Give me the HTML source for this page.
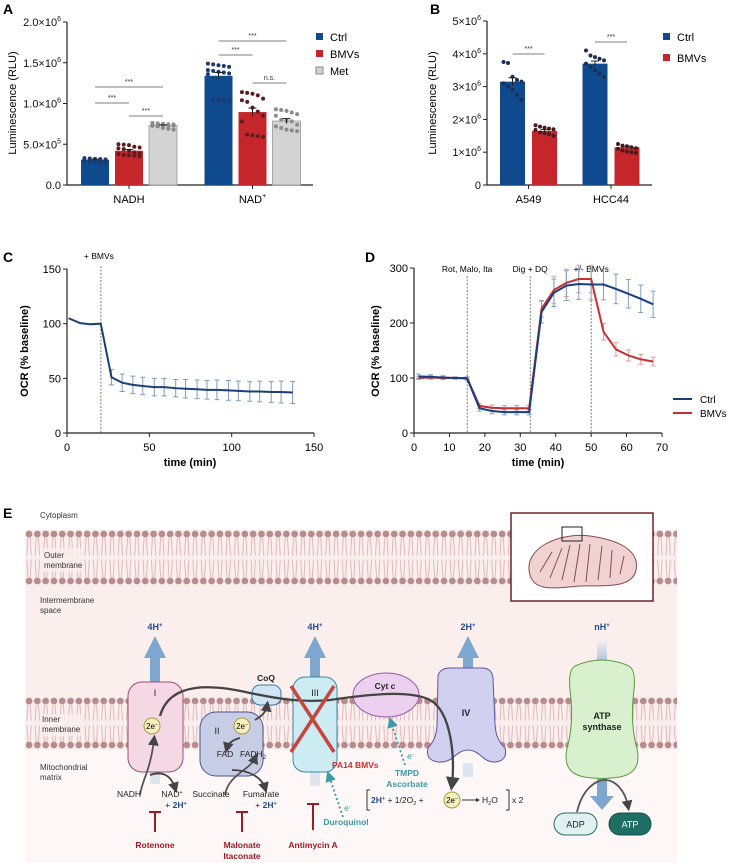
<!DOCTYPE html>
<html><head><meta charset="utf-8">
<style>
html,body{margin:0;padding:0;background:#fff;}
svg{display:block;font-family:"Liberation Sans",Arial,sans-serif;}
</style></head>
<body>
<svg id="fig" width="729" height="863" viewBox="0 0 729 863" xmlns="http://www.w3.org/2000/svg">
<defs>
<pattern id="memOuter" x="0" y="530.5" width="8.3" height="54" patternUnits="userSpaceOnUse">
 <line x1="3" y1="7" x2="2" y2="25" stroke="#d9a9b0" stroke-width="0.8"/>
 <line x1="5.3" y1="7" x2="6.3" y2="25" stroke="#d9a9b0" stroke-width="0.8"/>
 <line x1="3" y1="47" x2="2" y2="29" stroke="#d9a9b0" stroke-width="0.8"/>
 <line x1="5.3" y1="47" x2="6.3" y2="29" stroke="#d9a9b0" stroke-width="0.8"/>
 <circle cx="4.15" cy="3.5" r="3.4" fill="#b88b8e"/>
 <circle cx="4.15" cy="50.5" r="3.4" fill="#b88b8e"/>
</pattern>
<pattern id="memInner" x="0" y="697.5" width="8.3" height="51" patternUnits="userSpaceOnUse">
 <line x1="3" y1="7" x2="2" y2="23" stroke="#d9a9b0" stroke-width="0.8"/>
 <line x1="5.3" y1="7" x2="6.3" y2="23" stroke="#d9a9b0" stroke-width="0.8"/>
 <line x1="3" y1="44" x2="2" y2="28" stroke="#d9a9b0" stroke-width="0.8"/>
 <line x1="5.3" y1="44" x2="6.3" y2="28" stroke="#d9a9b0" stroke-width="0.8"/>
 <circle cx="4.15" cy="3.5" r="3.4" fill="#b88b8e"/>
 <circle cx="4.15" cy="47.5" r="3.4" fill="#b88b8e"/>
</pattern>
<marker id="ah" markerWidth="6" markerHeight="6" refX="3" refY="3" orient="auto"><path d="M0,0 L6,3 L0,6 z" fill="#444"/></marker>
<marker id="ahT" markerWidth="6" markerHeight="6" refX="3" refY="3" orient="auto"><path d="M0,0 L6,3 L0,6 z" fill="#3a9aa5"/></marker>
<linearGradient id="fadeUp" x1="0" y1="1" x2="0" y2="0"><stop offset="0" stop-color="#aac4dc"/><stop offset="1" stop-color="#aac4dc" stop-opacity="0"/></linearGradient>
</defs>

<!-- Panel letters -->
<text x="3" y="14" font-size="14" font-weight="bold">A</text>
<text x="430" y="14" font-size="14" font-weight="bold">B</text>
<text x="3" y="262" font-size="14" font-weight="bold">C</text>
<text x="365" y="262" font-size="14" font-weight="bold">D</text>
<text x="3" y="518" font-size="14" font-weight="bold">E</text>

<g id="gA"></g>
<g id="gB"></g>
<g id="gC"></g>
<g id="gD"></g>

<!-- Panel E diagram -->
<g id="gE">
 <rect x="25" y="530" width="652" height="333" fill="#faefec"/>
 <rect x="25" y="750" width="652" height="113" fill="#fdf8f7"/>
 <rect x="25" y="530.5" width="652" height="54" fill="url(#memOuter)"/>
 <rect x="25" y="697.5" width="652" height="51" fill="url(#memInner)"/>
 <text x="40" y="518" font-size="8" fill="#333">Cytoplasm</text>
 <rect x="42" y="548" width="42" height="24" fill="#faefec" opacity="0.8"/>
 <text x="44" y="558" font-size="8" fill="#333"><tspan x="44">Outer</tspan><tspan x="44" dy="10">membrane</tspan></text>
 <text x="40" y="603" font-size="8" fill="#333"><tspan x="40">Intermembrane</tspan><tspan x="40" dy="10">space</tspan></text>
 <rect x="40" y="714" width="44" height="22" fill="#faefec" opacity="0.8"/>
 <text x="42" y="722" font-size="8" fill="#333"><tspan x="42">Inner</tspan><tspan x="42" dy="10">membrane</tspan></text>
 <text x="40" y="770" font-size="8" fill="#333"><tspan x="40">Mitochondrial</tspan><tspan x="40" dy="10">matrix</tspan></text>

 <!-- Mito inset -->
 <rect x="511" y="513" width="142" height="88" fill="#fff" stroke="#6e2326" stroke-width="1.5"/>
 <path d="M530,575 C522,548 560,532 590,536 C618,540 640,550 636,570 C632,590 600,585 580,586 C555,588 535,592 530,575 Z" fill="#f1d2d2" stroke="#8a4a4c" stroke-width="1"/>
 <path d="M540,572 L552,552 M550,578 L562,548 M562,580 L570,545 M574,582 L580,544 M586,582 L590,544 M598,580 L602,546 M610,578 L612,550 M620,574 L624,556" stroke="#8a4a4c" stroke-width="1" fill="none"/>
 <rect x="562" y="527" width="20" height="14" fill="none" stroke="#222" stroke-width="1"/>

 <!-- proton arrows -->
 <g fill="#7ea7cf">
  <rect x="150" y="655" width="10" height="28"/><path d="M144,658 L155,636 L166,658 Z"/>
  <rect x="310" y="655" width="10" height="24"/><path d="M304,658 L315,636 L326,658 Z"/>
  <rect x="463" y="655" width="10" height="15"/><path d="M457,658 L468,636 L479,658 Z"/>
  <rect x="597" y="640" width="10" height="22" fill="url(#fadeUp)"/>
  <rect x="150" y="772" width="10" height="12" fill="#c9d8e8" opacity="0.6"/>
  <rect x="310" y="772" width="10" height="14" fill="#c9d8e8" opacity="0.6"/>
  <rect x="463" y="763" width="10" height="14" fill="#c9d8e8" opacity="0.6"/>
  <rect x="597" y="778" width="10" height="20"/><path d="M590,796 L602,810 L614,796 Z"/>
 </g>
 <g font-size="9" font-weight="bold" fill="#1f4e8f" text-anchor="middle">
  <text x="155" y="630">4H<tspan font-size="6" dy="-3">+</tspan></text>
  <text x="315" y="630">4H<tspan font-size="6" dy="-3">+</tspan></text>
  <text x="468" y="630">2H<tspan font-size="6" dy="-3">+</tspan></text>
  <text x="602" y="630">nH<tspan font-size="6" dy="-3">+</tspan></text>
 </g>

 <!-- complexes -->
 <rect x="128" y="682" width="55" height="90" rx="14" fill="#f4d8e4" stroke="#9c4f78" stroke-width="1"/>
 <text x="155" y="696" font-size="9" text-anchor="middle" fill="#222">I</text>
 <rect x="200" y="712" width="63" height="64" rx="16" fill="#c8cde6" stroke="#4a5590" stroke-width="1"/>
 <text x="217" y="734" font-size="9" text-anchor="middle" fill="#222">II</text>
 <text x="225" y="757" font-size="8.5" text-anchor="middle" fill="#222">FAD</text>
 <text x="253" y="757" font-size="8.5" text-anchor="middle" fill="#222">FADH<tspan font-size="6" dy="2">2</tspan></text>
 <rect x="252" y="685" width="29" height="20" rx="8" fill="#cfe5f3" stroke="#3a7aa0" stroke-width="1"/>
 <text x="266" y="681" font-size="8.5" font-weight="bold" text-anchor="middle" fill="#222">CoQ</text>
 <rect x="293" y="677" width="44" height="95" rx="12" fill="#cdebf2" stroke="#3a8aa0" stroke-width="1"/>
 <text x="315" y="696" font-size="9" text-anchor="middle" fill="#222">III</text>
 <ellipse cx="386" cy="695" rx="33" ry="22" fill="#ecd0ef" stroke="#9a5aa5" stroke-width="1"/>
 <text x="385" y="689" font-size="8.5" font-weight="bold" text-anchor="middle" fill="#222">Cyt c</text>
 <path d="M438,676 Q440,668 450,668 L482,668 Q492,668 493,678 L495,725 Q496,740 505,748 Q508,760 496,762 Q488,763 480,755 Q468,745 456,755 Q448,763 438,762 Q425,760 428,748 Q437,738 437,725 Z" fill="#d2d0f0" stroke="#5a58a0" stroke-width="1"/>
 <text x="466" y="716" font-size="9" font-weight="bold" text-anchor="middle" fill="#222">IV</text>
 <path d="M575,666 Q602,654 629,666 Q636,670 634,690 Q630,720 636,745 Q644,772 620,777 Q602,780 584,777 Q560,772 568,745 Q574,720 570,690 Q568,670 575,666 Z" fill="#d9f0cf" stroke="#5a9a40" stroke-width="1"/>
 <text x="602" y="719" font-size="9" font-weight="bold" text-anchor="middle" fill="#222"><tspan x="602">ATP</tspan><tspan x="602" dy="11">synthase</tspan></text>

 <!-- electron path -->
 <path d="M160,716 C170,680 215,685 250,693 C275,698 300,703 330,700 C370,694 410,690 430,700 C452,712 455,760 452,784" fill="none" stroke="#444" stroke-width="2.3" marker-end="url(#ah)"/>
 <path d="M255,720 C262,716 266,712 267,706" fill="none" stroke="#444" stroke-width="1.8" marker-end="url(#ah)"/>
 <path d="M140,795 C142,780 150,772 154,740" fill="none" stroke="#555" stroke-width="1.8" marker-end="url(#ah)"/>
 <path d="M150,775 C165,770 172,778 175,788" fill="none" stroke="#444" stroke-width="1.8" marker-end="url(#ah)"/>
 <path d="M240,738 C232,740 228,744 227,748" fill="none" stroke="#444" stroke-width="1.8" marker-end="url(#ah)"/>
 <path d="M225,795 C228,775 250,770 255,758" fill="none" stroke="#555" stroke-width="1.8" marker-end="url(#ah)"/>
 <path d="M232,770 C250,770 262,778 265,788" fill="none" stroke="#444" stroke-width="1.8" marker-end="url(#ah)"/>
 <path d="M577,812 C582,790 595,780 605,780 C615,780 625,790 628,806" fill="none" stroke="#555" stroke-width="1.8" marker-end="url(#ah)"/>

 <g>
  <circle cx="152" cy="726" r="8" fill="#f6efc0" stroke="#a89a40"/><text x="152" y="729" font-size="8" text-anchor="middle">2e<tspan font-size="5" dy="-3">−</tspan></text>
  <circle cx="242" cy="726" r="8" fill="#f6efc0" stroke="#a89a40"/><text x="242" y="729" font-size="8" text-anchor="middle">2e<tspan font-size="5" dy="-3">−</tspan></text>
  <circle cx="452" cy="800" r="8" fill="#f6efc0" stroke="#a89a40"/><text x="452" y="803" font-size="8" text-anchor="middle">2e<tspan font-size="5" dy="-3">−</tspan></text>
 </g>

 <!-- red X -->
 <line x1="291" y1="686" x2="334" y2="752" stroke="#c8443c" stroke-width="3.5"/>
 <line x1="334" y1="686" x2="291" y2="752" stroke="#c8443c" stroke-width="3.5"/>
 <text x="332" y="768" font-size="8.5" font-weight="bold" fill="#c8302f">PA14 BMVs</text>

 <!-- substrates -->
 <g font-size="8.5" fill="#222" text-anchor="middle">
  <text x="129" y="797">NADH</text>
  <text x="172" y="797">NAD<tspan font-size="5.5" dy="-3">+</tspan></text>
  <text x="176" y="808">+ <tspan font-weight="bold" fill="#1f4e8f">2H<tspan font-size="5.5" dy="-3">+</tspan></tspan></text>
  <text x="211" y="797">Succinate</text>
  <text x="261" y="797">Fumarate</text>
  <text x="266" y="808">+ <tspan font-weight="bold" fill="#1f4e8f">2H<tspan font-size="5.5" dy="-3">+</tspan></tspan></text>
 </g>

 <!-- inhibitors -->
 <g stroke="#9b1c24" stroke-width="2">
  <line x1="155" y1="811" x2="155" y2="832"/><line x1="149" y1="812" x2="161" y2="812"/>
  <line x1="242" y1="811" x2="242" y2="832"/><line x1="236" y1="812" x2="248" y2="812"/>
  <line x1="313" y1="803" x2="313" y2="830"/><line x1="307" y1="804" x2="319" y2="804"/>
 </g>
 <g font-size="8.5" font-weight="bold" fill="#9b1c24" text-anchor="middle">
  <text x="155" y="848">Rotenone</text>
  <text x="242" y="848"><tspan x="242">Malonate</tspan><tspan x="242" dy="11">Itaconate</tspan></text>
  <text x="313" y="848">Antimycin A</text>
 </g>

 <!-- teal donors -->
 <path d="M343,817 L329,776" stroke="#3a9aa5" stroke-width="1.8" stroke-dasharray="2,2.5" fill="none" marker-end="url(#ahT)"/>
 <path d="M405,765 L391,722" stroke="#3a9aa5" stroke-width="1.8" stroke-dasharray="2,2.5" fill="none" marker-end="url(#ahT)"/>
 <g font-size="8.5" font-weight="bold" fill="#3a9aa5" text-anchor="middle">
  <text x="348" y="811" font-weight="normal">e<tspan font-size="5" dy="-3">−</tspan></text>
  <text x="411" y="759" font-weight="normal">e<tspan font-size="5" dy="-3">−</tspan></text>
  <text x="346" y="825">Duroquinol</text>
  <text x="407" y="776"><tspan x="407">TMPD</tspan><tspan x="407" dy="11">Ascorbate</tspan></text>
 </g>

 <!-- equation -->
 <g font-size="8.5" fill="#222">
  <path d="M370,790 L367,790 L367,810 L370,810" fill="none" stroke="#333" stroke-width="1"/>
  <text x="371" y="803"><tspan font-weight="bold" fill="#1f4e8f">2H<tspan font-size="5.5" dy="-3">+</tspan></tspan><tspan dy="3"> + 1/2O</tspan><tspan font-size="5.5" dy="2">2</tspan><tspan dy="-2"> +</tspan></text>
  <line x1="462" y1="800" x2="476" y2="800" stroke="#333" stroke-width="1"/><path d="M476,798 L480,800 L476,802 Z" fill="#333"/>
  <text x="482" y="803">H<tspan font-size="5.5" dy="2">2</tspan><tspan dy="-2">O</tspan></text>
  <path d="M506,790 L509,790 L509,810 L506,810" fill="none" stroke="#333" stroke-width="1"/>
  <text x="512" y="803">x 2</text>
 </g>

 <!-- ADP / ATP -->
 <rect x="554" y="813" width="43" height="22" rx="11" fill="#e0f1f1" stroke="#2a6a6a" stroke-width="1"/>
 <text x="575.5" y="827.5" font-size="9" text-anchor="middle" fill="#222">ADP</text>
 <rect x="609" y="813" width="42" height="22" rx="11" fill="#1f6e66" stroke="#174f4a" stroke-width="1"/>
 <text x="630" y="827.5" font-size="9" text-anchor="middle" fill="#fff">ATP</text>
</g>

<script>
// ---------- Data ----------
// Panel A (values in RLU)
const aCategories = ["NADH", "NAD+"];
const aSeries = ["Ctrl", "BMVs", "Met"];
const aCtrl = [310000, 1340000];
const aBMVs = [420000, 895000];
const aMet = [730000, 785000];
const aCtrlErr = [8000, 40000];
const aBMVsErr = [15000, 50000];
const aMetErr = [8000, 30000];
const aDotsNADHCtrl = [330000,325000,320000,318000,315000,312000,310000,305000,300000,295000,290000,285000,280000,278000,275000];
const aDotsNADHBMVs = [500000,495000,490000,470000,460000,450000,440000,420000,400000,390000,380000,370000,365000,360000,355000];
const aDotsNADHMet = [760000,755000,750000,745000,742000,740000,738000,735000,730000,728000,725000,720000,700000,690000,680000];
const aDotsNADCtrl = [1490000,1480000,1470000,1460000,1450000,1410000,1400000,1390000,1380000,1370000,1360000,1050000,1045000,1040000,1035000];
const aDotsNADBMVs = [1140000,1130000,1120000,1100000,1060000,1040000,1020000,950000,900000,850000,780000,620000,610000,600000,590000];
const aDotsNADMet = [930000,920000,910000,890000,870000,850000,800000,790000,780000,740000,720000,700000,680000,670000,660000];
const aTicks = [0, 500000, 1000000, 1500000, 2000000];
const aTickBase = ["0.0", "5.0×10", "1.0×10", "1.5×10", "2.0×10"];
const aTickExp = ["", "5", "6", "6", "6"];

// Panel B
const bCategories = ["A549", "HCC44"];
const bCtrl = [3150000, 3700000];
const bBMVs = [1650000, 1150000];
const bCtrlErr = [120000, 80000];
const bBMVsErr = [40000, 30000];
const bDotsA549Ctrl = [3750000,3720000,3300000,3200000,3150000,3100000,3000000,2900000,2750000,2600000];
const bDotsA549BMVs = [1820000,1780000,1750000,1720000,1700000,1680000,1600000,1580000,1550000,1500000];
const bDotsHCCCtrl = [4100000,3950000,3900000,3850000,3800000,3700000,3600000,3500000,3400000,3300000];
const bDotsHCCBMVs = [1250000,1200000,1180000,1150000,1120000,1100000,1050000,1020000,1000000,980000];
const bTicks = [0, 1000000, 2000000, 3000000, 4000000, 5000000];
const bTickBase = ["0", "1×10", "2×10", "3×10", "4×10", "5×10"];
const bTickExp = ["", "6", "6", "6", "6", "6"];

// Panel C
const cTime = [1,8,14,20.5,27,33.5,40,46,53,59,66,72,79,85,91,98,104,111,117,124,130,137];
const cOCR = [105,100.5,99.5,100,51,46,44,43,42,42,41,40.5,40,39.5,39.5,39,38.5,38,38,37.5,37.5,37];
const cErr = [0,0,0,0,7,8,8,8,8,8,8,8.5,8.5,8.5,9,9,9,9,9.5,9.5,10,10];
const cXTicks = [0, 50, 100, 150];
const cYTicks = [0, 50, 100, 150];
const cInjection = [20.6];

// Panel D
const dTime = [1.3,4.7,8.2,11.6,15,18.5,22,25.5,29,32.5,36,39.5,43,46.5,50,53.5,57,60.5,64,67.5];
const dCtrl = [103,102,101,100,99,45,40,38,38,38,220,255,268,271,270,270,262,253,244,234];
const dBMVs = [100,101,100,100,100,49,46,45,45,45,226,260,273,280,280,184,152,141,134,130];
const dCtrlErr = [4,4,3,2,3,5,5,5,5,5,20,25,27,28,28,28,27,26,25,24];
const dBMVsErr = [3,3,3,2,2,4,5,5,5,5,15,25,25,25,25,15,12,10,9,8];
const dXTicks = [0,10,20,30,40,50,60,70];
const dYTicks = [0,100,200,300];
const dInjections = [15, 32.8, 50];
const dInjLabels = ["Rot, Malo, Ita", "Dig + DQ", "+/- BMVs"];

// ---------- Helpers ----------
const NS = "http://www.w3.org/2000/svg";
function mk(tag, attrs, parent, txt) {
  const e = document.createElementNS(NS, tag);
  for (const k in attrs) e.setAttribute(k, attrs[k]);
  if (txt !== undefined) e.textContent = txt;
  parent.appendChild(e);
  return e;
}
function supLabel(parent, x, y, base, exp, anchor) {
  const t = mk("text", {x: x, y: y, "font-size": 11, "text-anchor": anchor || "end", fill: "#111"}, parent);
  const s1 = mk("tspan", {}, t, base);
  if (exp) { mk("tspan", {"font-size": 7, dy: -5}, t, exp); }
  return t;
}
const COL = {ctrl: "#104a8e", bmv: "#c4262b", met: "#d3d3d3"};
const DOT = {ctrl: "#183a6e", bmv: "#5e1c20", met: "#8a8a8a"};

// ---------- Panel A ----------
(function(){
  const g = document.getElementById("gA");
  const y0 = 185, yTop = 22, xL = 67, xR = 313;
  const yA = v => y0 - v / 2000000 * (y0 - yTop);
  const xA = (gi, si) => 129 + gi * 123.5 + (si - 1) * 34;
  const bw = 28;
  const ax = mk("path", {d: `M${xL},${yTop} L${xL},${y0} L${xR},${y0}`, stroke: "#222", fill: "none", "stroke-width": 1.2}, g);
  
  
  aTicks.forEach((v, i) => {
    mk("line", {x1: xL - 4, x2: xL, y1: yA(v), y2: yA(v), stroke: "#222"}, g);
    const t = supLabel(g, xL - 6, yA(v) + 4, aTickBase[i], aTickExp[i]);
    
    
  });
  const yt = mk("text", {x: 0, y: 0, transform: `translate(16,103) rotate(-90)`, "font-size": 11, "text-anchor": "middle"}, g, "Luminescence (RLU)");
  
  
  const vals = [aCtrl, aBMVs, aMet], errs = [aCtrlErr, aBMVsErr, aMetErr];
  const dots = [[aDotsNADHCtrl, aDotsNADHBMVs, aDotsNADHMet], [aDotsNADCtrl, aDotsNADBMVs, aDotsNADMet]];
  const fills = [COL.ctrl, COL.bmv, COL.met], dcol = [DOT.ctrl, DOT.bmv, DOT.met];
  aCategories.forEach((c, gi) => {
    vals.forEach((arr, si) => {
      const cx = xA(gi, si);
      const r = mk("rect", {x: cx - bw/2, y: yA(arr[gi]), width: bw, height: y0 - yA(arr[gi]), fill: fills[si], stroke: si === 2 ? "#999" : "none", "stroke-width": 0.8}, g);
      
      
      dots[gi][si].forEach((v, k) => {
        const d = mk("circle", {cx: cx + ((k % 5) - 2) * 5.3, cy: yA(v), r: 2, fill: dcol[si]}, g);
        
        
      });
      const e = errs[si][gi];
      mk("path", {d: `M${cx},${yA(arr[gi]+e)} L${cx},${yA(arr[gi]-e)} M${cx-4},${yA(arr[gi]+e)} L${cx+4},${yA(arr[gi]+e)}`, stroke: "#222", "stroke-width": 1}, g);
    });
    mk("line", {x1: xA(gi,1), x2: xA(gi,1), y1: y0, y2: y0 + 4, stroke: "#222"}, g);
    const lab = mk("text", {x: xA(gi,1), y: 203, "font-size": 11, "text-anchor": "middle"}, g, c === "NAD+" ? "NAD" : c);
    if (c === "NAD+") mk("tspan", {"font-size": 7, dy: -5}, lab, "+");
    
    
  });
  // significance
  const sig = [[xA(0,0), xA(0,2), 87, "***"], [xA(0,0), xA(0,1), 103, "***"], [xA(0,1), xA(0,2), 116, "***"],
               [xA(1,0), xA(1,2), 41, "***"], [xA(1,0), xA(1,1), 55, "***"], [xA(1,1), xA(1,2), 83, "n.s."]];
  sig.forEach(s => {
    const l = mk("line", {x1: s[0], x2: s[1], y1: s[2], y2: s[2], stroke: "#555", "stroke-width": 0.8}, g);
    
    
    mk("text", {x: (s[0]+s[1])/2, y: s[2] - 3, "font-size": 7, "text-anchor": "middle", fill: "#333"}, g, s[3]);
  });
  // legend
  const lc = [COL.ctrl, COL.bmv, COL.met];
  aSeries.forEach((s, i) => {
    const ly = [37, 54, 71][i];
    const sq = mk("rect", {x: 316, y: ly - 4, width: 7, height: 7, fill: lc[i], stroke: i === 2 ? "#888" : "none"}, g);
    
    
    mk("text", {x: 330, y: ly + 4, "font-size": 11}, g, s);
  });
})();

// ---------- Panel B ----------
(function(){
  const g = document.getElementById("gB");
  const y0 = 185, yTop = 21, xL = 487, xR = 652;
  const yB = v => y0 - v / 5000000 * (y0 - yTop);
  const xB = (gi, si) => 512.5 + gi * 82.5 + si * 32;
  const bw = 25;
  const ax = mk("path", {d: `M${xL},${yTop} L${xL},${y0} L${xR},${y0}`, stroke: "#222", fill: "none", "stroke-width": 1.2}, g);
  
  
  bTicks.forEach((v, i) => {
    mk("line", {x1: xL - 4, x2: xL, y1: yB(v), y2: yB(v), stroke: "#222"}, g);
    const t = supLabel(g, xL - 6, yB(v) + 4, bTickBase[i], bTickExp[i]);
    
    
  });
  const yt = mk("text", {x: 0, y: 0, transform: `translate(436,103) rotate(-90)`, "font-size": 11, "text-anchor": "middle"}, g, "Luminescence (RLU)");
  
  
  const vals = [bCtrl, bBMVs], errs = [bCtrlErr, bBMVsErr];
  const dots = [[bDotsA549Ctrl, bDotsA549BMVs], [bDotsHCCCtrl, bDotsHCCBMVs]];
  const fills = [COL.ctrl, COL.bmv], dcol = ["#1a2f55", "#4a1a1c"];
  bCategories.forEach((c, gi) => {
    vals.forEach((arr, si) => {
      const cx = xB(gi, si);
      const r = mk("rect", {x: cx - bw/2, y: yB(arr[gi]), width: bw, height: y0 - yB(arr[gi]), fill: fills[si]}, g);
      
      
      dots[gi][si].forEach((v, k) => {
        const d = mk("circle", {cx: cx + ((k % 5) - 2) * 4.5, cy: yB(v), r: 2, fill: dcol[si]}, g);
        
        
      });
      const e = errs[si][gi];
      mk("path", {d: `M${cx},${yB(arr[gi]+e)} L${cx},${yB(arr[gi]-e)} M${cx-4},${yB(arr[gi]+e)} L${cx+4},${yB(arr[gi]+e)}`, stroke: "#222", "stroke-width": 1}, g);
    });
    const mid = (xB(gi,0) + xB(gi,1)) / 2;
    mk("line", {x1: mid, x2: mid, y1: y0, y2: y0 + 4, stroke: "#222"}, g);
    const lab = mk("text", {x: mid, y: 203, "font-size": 11, "text-anchor": "middle"}, g, c);
    
    
    const sy = gi === 0 ? 54 : 42;
    const l = mk("line", {x1: xB(gi,0), x2: xB(gi,1), y1: sy, y2: sy, stroke: "#555", "stroke-width": 0.8}, g);
    
    
    mk("text", {x: mid, y: sy - 3, "font-size": 7, "text-anchor": "middle", fill: "#333"}, g, "***");
  });
  ["Ctrl", "BMVs"].forEach((s, i) => {
    const ly = [37, 58][i];
    const sq = mk("rect", {x: 663, y: ly - 4, width: 7, height: 7, fill: [COL.ctrl, COL.bmv][i]}, g);
    
    
    mk("text", {x: 677, y: ly + 4, "font-size": 11}, g, s);
  });
})();

// ---------- Panel C ----------
(function(){
  const g = document.getElementById("gC");
  const y0 = 433, xL = 67;
  const xC = t => 67 + t * 1.647;
  const yC = v => 433 - v * 1.093;
  const ax = mk("path", {d: `M${xL},${yC(150)} L${xL},${y0} L${xC(150)},${y0}`, stroke: "#222", fill: "none", "stroke-width": 1.2}, g);
  
  
  cYTicks.forEach(v => {
    mk("line", {x1: xL - 4, x2: xL, y1: yC(v), y2: yC(v), stroke: "#222"}, g);
    const t = mk("text", {x: xL - 6, y: yC(v) + 4, "font-size": 11, "text-anchor": "end"}, g, String(v));
    
    
  });
  cXTicks.forEach(v => {
    mk("line", {x1: xC(v), x2: xC(v), y1: y0, y2: y0 + 4, stroke: "#222"}, g);
    const t = mk("text", {x: xC(v), y: 451, "font-size": 11, "text-anchor": "middle"}, g, String(v));
    
    
  });
  const xt = mk("text", {x: 190, y: 466, "font-size": 11, "font-weight": "bold", "text-anchor": "middle"}, g, "time (min)");
  
  
  const yt = mk("text", {x: 0, y: 0, transform: "translate(28,351) rotate(-90)", "font-size": 11, "font-weight": "bold", "text-anchor": "middle"}, g, "OCR (% baseline)");
  
  
  cInjection.forEach(t => {
    const l = mk("line", {x1: xC(t), x2: xC(t), y1: 266, y2: y0, stroke: "#444", "stroke-width": 0.7, "stroke-dasharray": "2,1.5"}, g);
    
    
    mk("text", {x: xC(t) - 17, y: 259, "font-size": 8.5}, g, "+ BMVs");
  });
  cTime.forEach((t, i) => {
    if (!cErr[i]) return;
    const x = xC(t), a = yC(cOCR[i] + cErr[i]), b = yC(cOCR[i] - cErr[i]);
    const e = mk("path", {d: `M${x},${a} L${x},${b} M${x-2.5},${a} L${x+2.5},${a} M${x-2.5},${b} L${x+2.5},${b}`, stroke: "#7f9cc0", "stroke-width": 1}, g);
    
    
  });
  const line = mk("path", {d: cTime.map((t, i) => (i ? "L" : "M") + xC(t) + "," + yC(cOCR[i])).join(" "), stroke: "#1a3f7a", "stroke-width": 2, fill: "none"}, g);
  
  
})();

// ---------- Panel D ----------
(function(){
  const g = document.getElementById("gD");
  const y0 = 433, xL = 414;
  const xD = t => 414 + t * 3.543;
  const yD = v => 433 - v * 0.55;
  const ax = mk("path", {d: `M${xL},${yD(300)} L${xL},${y0} L${xD(70)},${y0}`, stroke: "#222", fill: "none", "stroke-width": 1.2}, g);
  
  
  dYTicks.forEach(v => {
    mk("line", {x1: xL - 4, x2: xL, y1: yD(v), y2: yD(v), stroke: "#222"}, g);
    const t = mk("text", {x: xL - 6, y: yD(v) + 4, "font-size": 11, "text-anchor": "end"}, g, String(v));
    
    
  });
  dXTicks.forEach(v => {
    mk("line", {x1: xD(v), x2: xD(v), y1: y0, y2: y0 + 4, stroke: "#222"}, g);
    const t = mk("text", {x: xD(v), y: 451, "font-size": 11, "text-anchor": "middle"}, g, String(v));
    
    
  });
  const xt = mk("text", {x: 538, y: 466, "font-size": 11, "font-weight": "bold", "text-anchor": "middle"}, g, "time (min)");
  
  
  const yt = mk("text", {x: 0, y: 0, transform: "translate(379,351) rotate(-90)", "font-size": 11, "font-weight": "bold", "text-anchor": "middle"}, g, "OCR (% baseline)");
  
  
  dInjections.forEach((t, i) => {
    const l = mk("line", {x1: xD(t), x2: xD(t), y1: 276, y2: y0, stroke: "#444", "stroke-width": 0.7, "stroke-dasharray": "2,1.5"}, g);
    
    
    const lab = mk("text", {x: xD(t), y: 272, "font-size": 8.5, "text-anchor": "middle"}, g, dInjLabels[i]);
    
    
  });
  const series = [[dBMVs, dBMVsErr, "#c8302f", "#e39a9a", "bmvs"], [dCtrl, dCtrlErr, "#173f80", "#7fa0c8", "ctrl"]];
  series.forEach(s => {
    dTime.forEach((t, i) => {
      const x = xD(t), a = yD(s[0][i] + s[1][i]), b = yD(s[0][i] - s[1][i]);
      const e = mk("path", {d: `M${x},${a} L${x},${b} M${x-2.5},${a} L${x+2.5},${a} M${x-2.5},${b} L${x+2.5},${b}`, stroke: s[3], "stroke-width": 1}, g);
      
      
    });
  });
  series.forEach(s => {
    const line = mk("path", {d: dTime.map((t, i) => (i ? "L" : "M") + xD(t) + "," + yD(s[0][i])).join(" "), stroke: s[2], "stroke-width": 2, fill: "none"}, g);
    
    
  });
  [["Ctrl", "#173f80", 399], ["BMVs", "#c8302f", 413]].forEach(l => {
    const ln = mk("line", {x1: 673, x2: 692, y1: l[2], y2: l[2], stroke: l[1], "stroke-width": 2}, g);
    
    
    mk("text", {x: 700, y: l[2] + 4, "font-size": 10}, g, l[0]);
  });
})();
</script>
</body></html>
